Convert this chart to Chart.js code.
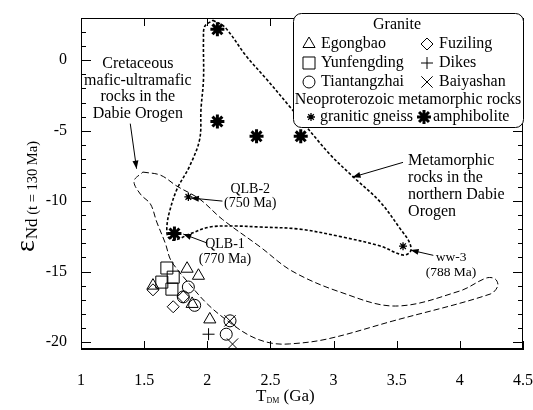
<!DOCTYPE html>
<html lang="en">
<head>
<meta charset="UTF-8">
<title>eNd(t) vs TDM</title>
<script src="https://cdn.jsdelivr.net/npm/chart.js"></script>
<style>
  html, body { margin: 0; padding: 0; background: #fff; }
</style>
</head>
<body>
<canvas id="chart" width="533" height="410"></canvas>
<script>
// ---- data: T_DM (Ga) and eNd (t = 130 Ma) ----
const egongbaoX = [1.57, 1.84, 1.93, 1.88, 2.02];
const egongbaoY = [-16.0, -14.8, -15.3, -17.3, -18.4];
const yunfengdingX = [1.68, 1.64, 1.73, 1.72];
const yunfengdingY = [-14.75, -15.75, -15.4, -16.25];
const tiantangzhaiX = [1.85, 1.81, 1.90, 2.18, 2.15];
const tiantangzhaiY = [-16.1, -16.8, -17.4, -18.5, -19.45];
const fuzilingX = [1.57, 1.73, 1.81];
const fuzilingY = [-16.3, -17.5, -16.8];
const dikesX = [2.01];
const dikesY = [-19.45];
const baiyashanX = [2.18, 2.20];
const baiyashanY = [-18.5, -20.15];
const gneissX = [1.85, 3.55];
const gneissY = [-9.7, -13.2];
const amphiboliteX = [2.08, 2.08, 2.39, 2.74, 1.74];
const amphiboliteY = [2.2, -4.35, -5.4, -5.4, -12.3];

// field outlines
const metaX = [2.045, 2.14, 2.31, 2.47, 2.65, 2.97, 3.15, 3.37, 3.53, 3.60, 3.61, 3.55, 3.37, 3.07, 2.73, 2.42, 2.22, 2.02, 1.86, 1.74, 1.69, 1.68, 1.70, 1.76, 1.86, 1.94, 1.95, 1.97, 1.97, 1.98, 2.045];
const metaY = [2.84, 2.34, 0.28, -1.35, -3.26, -6.67, -8.23, -10.07, -11.99, -12.91, -13.55, -13.83, -13.19, -12.55, -11.99, -11.84, -11.77, -11.84, -12.34, -12.77, -12.55, -11.84, -10.78, -9.15, -7.52, -5.60, -3.48, -1.35, 1.49, 2.41, 2.84];
const cretX = [1.49, 1.63, 1.76, 1.94, 2.12, 2.42, 2.67, 3.05, 3.49, 4.00, 4.21, 4.28, 4.30, 4.24, 3.47, 2.95, 2.65, 2.50, 2.34, 2.16, 2.00, 1.86, 1.73, 1.70, 1.67, 1.60, 1.55, 1.47, 1.42, 1.49];
const cretY = [-7.94, -8.16, -8.94, -9.86, -11.3, -13.26, -14.96, -16.45, -17.45, -16.38, -15.46, -15.53, -16.03, -16.6, -18.51, -19.79, -20.14, -20.07, -19.57, -18.5, -17.3, -15.9, -14.47, -13.97, -13.05, -11.49, -10.21, -9.50, -8.58, -7.94];

const xTicks = [1, 1.5, 2, 2.5, 3, 3.5, 4, 4.5];
const yTicks = [-20, -15, -10, -5, 0];

// annotation labels (text anchors and arrows in data units)
const notes = [
  { lines: ['Cretaceous', 'mafic-ultramafic', 'rocks in the', 'Dabie Orogen'], x: 1.45, y: -0.28, align: 'center', size: 16, step: 16.5,
    arrow: [1.39, -4.5, 1.44, -7.7] },
  { lines: ['Metamorphic', 'rocks in the', 'northern Dabie', 'Orogen'], x: 3.59, y: -7.16, align: 'left', size: 16, step: 16.8,
    arrow: [3.55, -7.25, 3.15, -8.3] },
  { lines: ['QLB-2', '(750 Ma)'], x: 2.34, y: -9.15, align: 'center', size: 14, step: 14.5,
    arrow: [2.12, -10.0, 1.87, -9.78] },
  { lines: ['QLB-1', '(770 Ma)'], x: 2.14, y: -13.1, align: 'center', size: 14, step: 15,
    arrow: [2.0, -12.98, 1.81, -12.34] },
  { lines: ['ww-3', '(788 Ma)'], x: 3.93, y: -14.0, align: 'center', size: 13.5, step: 15,
    arrow: [3.79, -13.85, 3.61, -13.48] }
];

const pts = (xs, ys) => xs.map((x, i) => ({ x: x, y: ys[i] }));
const serif = '"Liberation Serif", "Times New Roman", serif';

function marker(label, xs, ys, style, radius, width) {
  return {
    label: label, data: pts(xs, ys), pointStyle: style, pointRadius: radius,
    pointBorderWidth: width || 1, pointBorderColor: '#000', pointBackgroundColor: 'rgba(0,0,0,0)',
    showLine: false
  };
}
function outline(label, xs, ys, dash, width) {
  return {
    label: label, data: pts(xs, ys), showLine: true, pointRadius: 0, borderColor: '#000',
    borderWidth: width, borderDash: dash, tension: 0.35, fill: false
  };
}

function arrow(ctx, x1, y1, x2, y2) {
  ctx.beginPath();
  ctx.moveTo(x1, y1);
  ctx.lineTo(x2, y2);
  ctx.stroke();
  const a = Math.atan2(y2 - y1, x2 - x1);
  const len = 8, hw = 3;
  ctx.beginPath();
  ctx.moveTo(x2, y2);
  ctx.lineTo(x2 - len * Math.cos(a) + hw * Math.sin(a), y2 - len * Math.sin(a) - hw * Math.cos(a));
  ctx.lineTo(x2 - len * Math.cos(a) - hw * Math.sin(a), y2 - len * Math.sin(a) + hw * Math.cos(a));
  ctx.closePath();
  ctx.fill();
}

const decorations = {
  id: 'decorations',
  afterDatasetsDraw(chart) {
    const ctx = chart.ctx;
    const xs = chart.scales.x, ys = chart.scales.y;
    const a = chart.chartArea;
    ctx.save();
    ctx.strokeStyle = '#000';
    ctx.fillStyle = '#000';
    ctx.lineWidth = 1;

    // frame
    ctx.strokeRect(a.left + 0.5, a.top + 0.5, a.right - a.left - 1, a.bottom - a.top - 1);

    // inward ticks, all four sides
    ctx.beginPath();
    xTicks.forEach(v => {
      const px = Math.round(xs.getPixelForValue(v)) + 0.5;
      ctx.moveTo(px, a.bottom); ctx.lineTo(px, a.bottom - 8);
      ctx.moveTo(px, a.top); ctx.lineTo(px, a.top + 8);
    });
    for (let v = -20; v <= 3; v++) {
      const py = Math.round(ys.getPixelForValue(v)) + 0.5;
      const l = v % 5 === 0 ? 10 : 5;
      ctx.moveTo(a.left, py); ctx.lineTo(a.left + l, py);
      ctx.moveTo(a.right, py); ctx.lineTo(a.right - l, py);
    }
    ctx.stroke();

    // annotations
    notes.forEach(n => {
      ctx.font = n.size + 'px ' + serif;
      ctx.textAlign = n.align;
      ctx.textBaseline = 'middle';
      const tx = xs.getPixelForValue(n.x), ty = ys.getPixelForValue(n.y);
      n.lines.forEach((t, i) => ctx.fillText(t, tx, ty + i * n.step));
      const r = n.arrow;
      arrow(ctx, xs.getPixelForValue(r[0]), ys.getPixelForValue(r[1]), xs.getPixelForValue(r[2]), ys.getPixelForValue(r[3]));
    });

    // legend box
    const bx = 293, by = 13, bw = 230, bh = 114, rad = 8;
    ctx.beginPath();
    ctx.roundRect(bx + 0.5, by + 0.5, bw, bh, rad);
    ctx.fillStyle = '#fff';
    ctx.fill();
    ctx.stroke();
    ctx.fillStyle = '#000';
    ctx.font = '16px ' + serif;
    ctx.textBaseline = 'middle';
    ctx.textAlign = 'center';
    ctx.fillText('Granite', 397, 25);
    ctx.fillText('Neoproterozoic metamorphic rocks', 408, 100);
    ctx.textAlign = 'left';
    const rows = [
      ['triangle', 7, 1, 309, 44, 'Egongbao'], ['rect', 8.5, 1, 309, 63, 'Yunfengding'], ['circle', 6, 1, 309, 82, 'Tiantangzhai'],
      ['rectRot', 6, 1, 427, 44, 'Fuziling'], ['cross', 6, 1, 427, 63, 'Dikes'], ['crossRot', 8, 1, 427, 82, 'Baiyashan'],
      ['star', 4, 1.3, 311, 117, 'granitic gneiss'], ['star', 7, 3, 424, 117, 'amphibolite']
    ];
    rows.forEach(r => {
      ctx.save();
      ctx.fillStyle = 'rgba(0,0,0,0)';
      ctx.lineWidth = r[2];
      Chart.helpers.drawPoint(ctx, { pointStyle: r[0], radius: r[1], borderWidth: r[2], rotation: 0 }, r[3], r[4]);
      ctx.restore();
      ctx.fillText(r[5], r[3] + (r[0] === 'star' ? 9 : 12), r[4]);
    });

    // axis titles
    ctx.textAlign = 'left';
    ctx.textBaseline = 'alphabetic';
    ctx.save();
    ctx.translate(34, 252);
    ctx.rotate(-Math.PI / 2);
    ctx.font = '28px ' + serif;
    ctx.fillText('\u03b5', 0, 0);
    let w = ctx.measureText('\u03b5').width;
    ctx.font = '17px ' + serif;
    ctx.fillText('Nd', w + 1, 3);
    w += 1 + ctx.measureText('Nd').width;
    ctx.font = '14.5px ' + serif;
    ctx.fillText(' (t = 130 Ma)', w, 3);
    ctx.restore();

    ctx.font = '17px ' + serif;
    ctx.fillText('T', 256, 401);
    let tw = ctx.measureText('T').width;
    ctx.font = '8px ' + serif;
    ctx.fillText('DM', 256 + tw, 403);
    tw += ctx.measureText('DM').width;
    ctx.font = '17px ' + serif;
    ctx.fillText(' (Ga)', 256 + tw, 401);
    ctx.restore();
  }
};

Chart.defaults.font.family = serif;
Chart.defaults.font.size = 16;
Chart.defaults.color = '#000';

new Chart(document.getElementById('chart'), {
  type: 'scatter',
  data: {
    datasets: [
      marker('Egongbao', egongbaoX, egongbaoY, 'triangle', 7),
      marker('Yunfengding', yunfengdingX, yunfengdingY, 'rect', 8.5),
      marker('Tiantangzhai', tiantangzhaiX, tiantangzhaiY, 'circle', 6),
      marker('Fuziling', fuzilingX, fuzilingY, 'rectRot', 6),
      marker('Dikes', dikesX, dikesY, 'cross', 6),
      marker('Baiyashan', baiyashanX, baiyashanY, 'crossRot', 8),
      marker('granitic gneiss', gneissX, gneissY, 'star', 4, 1.3),
      marker('amphibolite', amphiboliteX, amphiboliteY, 'star', 7, 3),
      outline('Metamorphic rocks in the northern Dabie Orogen', metaX, metaY, [3, 2], 1.6),
      outline('Cretaceous mafic-ultramafic rocks', cretX, cretY, [6, 3], 1)
    ]
  },
  options: {
    responsive: false,
    animation: false,
    devicePixelRatio: 1,
    layout: { padding: { top: 18, right: 10, left: 0, bottom: 0 } },
    plugins: { legend: { display: false }, tooltip: { enabled: false } },
    scales: {
      x: {
        type: 'linear', min: 1, max: 4.5,
        afterBuildTicks: s => { s.ticks = xTicks.map(v => ({ value: v })); },
        afterFit: s => { s.height = 61; s.paddingLeft = 0; s.paddingRight = 0; },
        grid: { drawOnChartArea: false, drawTicks: false },
        border: { color: '#000', width: 1 },
        ticks: { padding: 22, maxRotation: 0, autoSkip: false, callback: v => String(v) }
      },
      y: {
        type: 'linear', min: -20.5, max: 3,
        afterBuildTicks: s => { s.ticks = yTicks.map(v => ({ value: v })); },
        afterFit: s => { s.width = 81; s.paddingTop = 0; s.paddingBottom = 0; },
        grid: { drawOnChartArea: false, drawTicks: false },
        border: { color: '#000', width: 1 },
        ticks: { padding: 14, autoSkip: false, callback: v => String(v) }
      }
    }
  },
  plugins: [decorations]
});
</script>
</body>
</html>
